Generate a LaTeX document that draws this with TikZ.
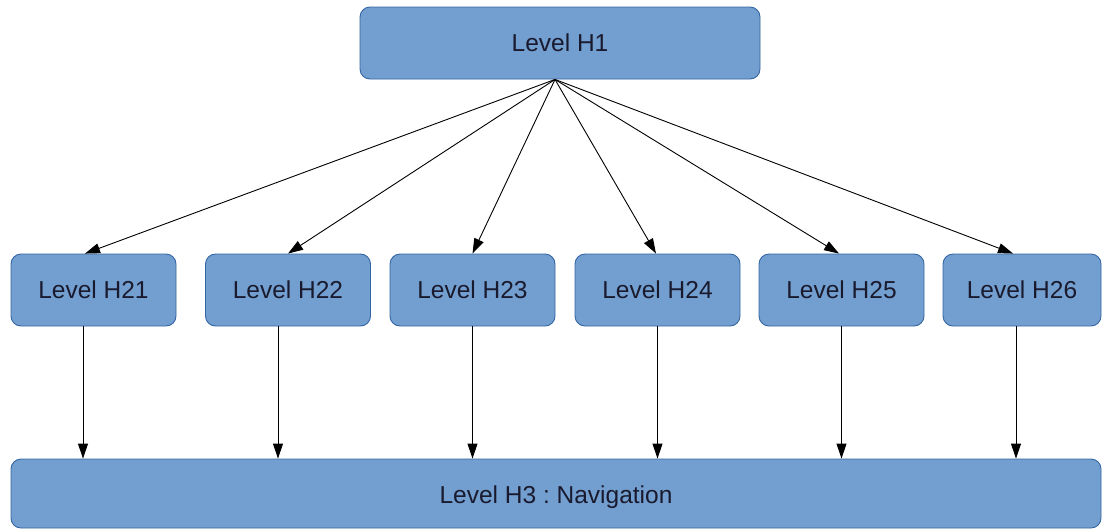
\documentclass[tikz,border=0pt]{standalone}
\usepackage{fontspec}
\setmainfont{Liberation Sans}
\usetikzlibrary{arrows.meta}
\definecolor{boxfill}{HTML}{729FCF}
\definecolor{boxline}{HTML}{3465A4}
\definecolor{txt}{HTML}{1A1A2E}
\frenchspacing
\begin{document}
\begin{tikzpicture}[x=1pt,y=-1pt,
  lvlbox/.style={draw=boxline, line width=0.9pt, fill=boxfill, rounded corners=10pt,
    text=txt, font=\fontsize{24.5}{29}\selectfont, inner sep=0pt, minimum height=72pt},
  arr/.style={draw=black, line width=0.9pt, -{Triangle[length=15pt,width=10pt]}}]
\useasboundingbox (0,0) rectangle (1102,528);
\node[lvlbox, minimum width=400pt] (h1) at (560,43) {Level H1};
\node[lvlbox, minimum width=165pt] (h21) at (93.5,290) {Level H21};
\node[lvlbox, minimum width=165pt] (h22) at (288,290) {Level H22};
\node[lvlbox, minimum width=165pt] (h23) at (472.5,290) {Level H23};
\node[lvlbox, minimum width=165pt] (h24) at (657.5,290) {Level H24};
\node[lvlbox, minimum width=165pt] (h25) at (841.5,290) {Level H25};
\node[lvlbox, minimum width=158pt] (h26) at (1022,290) {Level H26};
\node[lvlbox, minimum width=1090pt, minimum height=69pt, text height=25pt, text depth=5pt] (h3) at (556,493.5) {Level H3 : Navigation};
\coordinate (apex) at ([xshift=-5pt]h1.south);
\draw[arr] (apex) -- ([xshift=-8.5pt]h21.north);
\draw[arr] (apex) -- (h22.north);
\draw[arr] (apex) -- (h23.north);
\draw[arr] (apex) -- ([xshift=-1.5pt]h24.north);
\draw[arr] (apex) -- ([xshift=-2.5pt]h25.north);
\draw[arr] (apex) -- ([xshift=-9pt]h26.north);
\draw[arr] ([xshift=-10.5pt]h21.south) -- ([xshift=-10.5pt]h21.south |- h3.north);
\draw[arr] ([xshift=-10pt]h22.south) -- ([xshift=-10pt]h22.south |- h3.north);
\draw[arr] (h23.south) -- (h23.south |- h3.north);
\draw[arr] (h24.south) -- (h24.south |- h3.north);
\draw[arr] (h25.south) -- (h25.south |- h3.north);
\draw[arr] ([xshift=-6pt]h26.south) -- ([xshift=-6pt]h26.south |- h3.north);
\end{tikzpicture}
\end{document}
